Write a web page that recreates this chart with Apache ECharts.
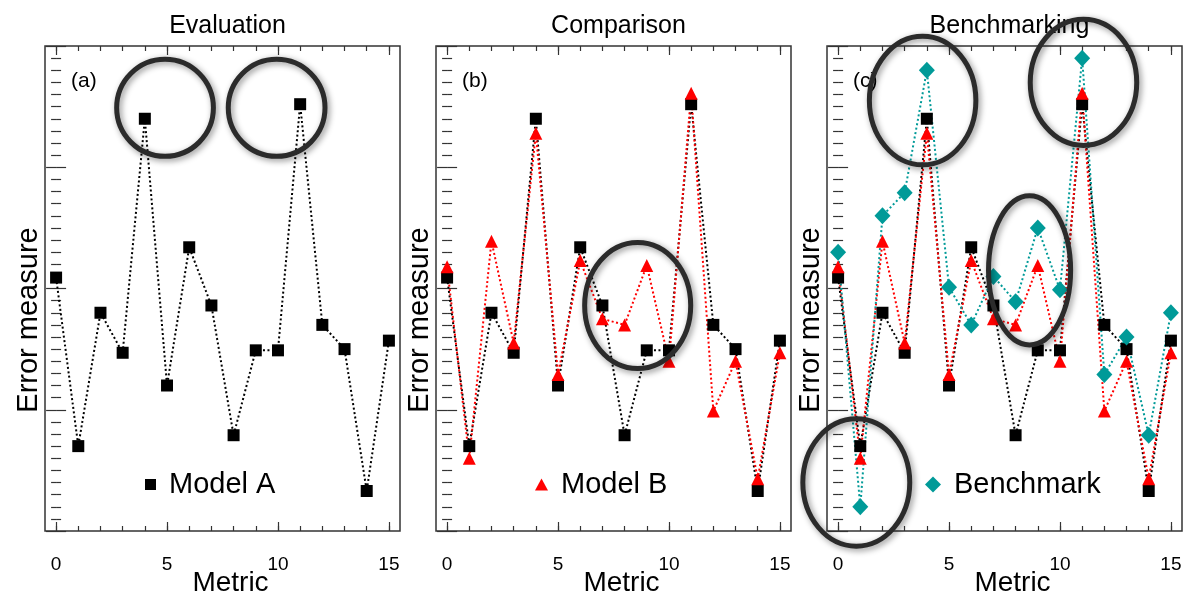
<!DOCTYPE html>
<html>
<head>
<meta charset="utf-8">
<script src="https://cdn.jsdelivr.net/npm/echarts@6/dist/echarts.min.js"></script>
<style>
  html, body { margin: 0; padding: 0; background: #fff; }
  #main { width: 1184px; height: 596px; }
</style>
</head>
<body>
<div id="main"></div>
<script>
  // data
  const metrics = [0, 1, 2, 3, 4, 5, 6, 7, 8, 9, 10, 11, 12, 13, 14, 15]
  const modelA = [2.09, 0.70, 1.80, 1.47, 3.40, 1.20, 2.34, 1.86, 0.79, 1.49, 1.49, 3.52, 1.70, 1.50, 0.33, 1.57]
  const modelB = [2.18, 0.60, 2.39, 1.55, 3.28, 1.29, 2.23, 1.75, 1.70, 2.19, 1.40, 3.61, 0.99, 1.40, 0.43, 1.47]
  const benchmark = [2.30, 0.20, 2.60, 2.79, 3.80, 2.01, 1.70, 2.10, 1.89, 2.50, 1.99, 3.90, 1.29, 1.60, 0.79, 1.80]
  const panelTitles = ['Evaluation', 'Comparison', 'Benchmarking']
  const panelTags = ['(a)', '(b)', '(c)']
  const xLabels = [0, 5, 10, 15]
  // highlight circles, data units: [panel, x, y, rx, ry]
  const circles = [
    [0, 4.91, 3.49, 2.18, 0.40],
    [0, 9.94, 3.49, 2.18, 0.40],
    [1, 8.59, 1.86, 2.39, 0.52],
    [2, 3.81, 3.55, 2.40, 0.53],
    [2, 11.06, 3.70, 2.40, 0.52],
    [2, 8.63, 2.15, 1.85, 0.615],
    [2, 0.82, 0.40, 2.41, 0.525]
  ]

  const FONT = "'Liberation Sans', Helvetica, Arial, sans-serif"
  const FRAME = '#333'
  const lefts = [45, 436, 827]
  const pair = arr => metrics.map((m, i) => [m, arr[i]])

  let grids = [], xAxes = [], yAxes = [], series = [], titles = []
  lefts.forEach((l, g) => {
    grids.push({left: l, top: 46, width: 355, height: 485, show: true, containLabel: false,
      outerBoundsMode: 'none',
      borderColor: FRAME, borderWidth: 1.5, backgroundColor: 'transparent'})
    ;['bottom', 'top'].forEach(pos => {
      xAxes.push({
        gridIndex: g, type: 'value', min: -0.5, max: 15.5, position: pos,
        axisLine: {show: false}, splitLine: {show: false},
        axisTick: {customValues: xLabels, inside: true, length: 9, lineStyle: {color: FRAME, width: 1.2}},
        axisLabel: pos === 'bottom'
          ? {customValues: xLabels, margin: 24, fontSize: 19, color: '#000', fontFamily: FONT}
          : {show: false},
        name: pos === 'bottom' ? 'Metric' : '',
        nameLocation: 'middle', nameGap: 38, nameMoveOverlap: false,
        nameTextStyle: {fontSize: 28, color: '#000', fontFamily: FONT, padding: [0, 0, 0, 16]}
      })
      xAxes.push({
        gridIndex: g, type: 'value', min: -0.5, max: 15.5, position: pos,
        axisLine: {show: false}, splitLine: {show: false},
        axisTick: {customValues: metrics, inside: true, length: 5, lineStyle: {color: FRAME, width: 1.2}},
        axisLabel: {show: false}
      })
    })
    ;['left', 'right'].forEach(pos => {
      yAxes.push({
        gridIndex: g, type: 'value', min: 0, max: 4, interval: 1, position: pos,
        axisLine: {show: false}, splitLine: {show: false},
        axisTick: {inside: true, length: 10, lineStyle: {color: FRAME, width: 1.2}},
        minorTick: {show: true, splitNumber: 10, length: 5, lineStyle: {color: FRAME, width: 1.2}},
        axisLabel: {show: false},
        name: pos === 'left' ? 'Error measure' : '',
        nameLocation: 'middle', nameGap: 2, nameMoveOverlap: false,
        nameTextStyle: {fontSize: 29, color: '#000', fontFamily: FONT, padding: [0, 63, 0, 0]}
      })
    })
    titles.push({text: panelTitles[g], left: l + 177.5, top: 9, textAlign: 'center',
      textStyle: {fontSize: 25, fontWeight: 'normal', color: '#000', fontFamily: FONT}})
    titles.push({text: panelTags[g], left: l + 21, top: 66,
      textStyle: {fontSize: 21, fontWeight: 'normal', color: '#000', fontFamily: FONT}})
  })

  function line(name, data, g, color, symbol, size) {
    return {
      name: name, type: 'line', data: pair(data),
      xAxisIndex: 4 * g, yAxisIndex: 2 * g,
      symbol: symbol, symbolSize: size, showSymbol: true,
      lineStyle: {color: color, width: 2, type: [2, 2.5]},
      itemStyle: {color: color},
      emphasis: {disabled: true}
    }
  }
  series.push(line('Model A', modelA, 0, '#000', 'rect', 12))
  series.push(line('Model A', modelA, 1, '#000', 'rect', 12))
  series.push(line('Model B', modelB, 1, '#ff0000', 'triangle', 13))
  series.push(line('Model A', modelA, 2, '#000', 'rect', 12))
  series.push(line('Model B', modelB, 2, '#ff0000', 'triangle', 13))
  series.push(line('Benchmark', benchmark, 2, '#009a98', 'diamond', [16, 17]))

  const legendText = {fontSize: 29, color: '#000', fontFamily: FONT, padding: [0, 0, 0, 8]}
  const chart = echarts.init(document.getElementById('main'))
  chart.setOption({
    animation: false,
    backgroundColor: '#fff',
    title: titles,
    grid: grids,
    xAxis: xAxes,
    yAxis: yAxes,
    legend: [
      {data: ['Model A'], left: 145, top: 470, padding: 0, icon: 'rect', itemWidth: 11, itemHeight: 11, textStyle: legendText, selectedMode: false},
      {data: ['Model B'], left: 535, top: 470, padding: 0, icon: 'triangle', itemWidth: 13, itemHeight: 12, textStyle: legendText, selectedMode: false},
      {data: ['Benchmark'], left: 925, top: 470, padding: 0, icon: 'diamond', itemWidth: 16, itemHeight: 16, textStyle: legendText, selectedMode: false}
    ],
    series: series
  })

  // circles drawn in data units through the grid scales
  let shapes = []
  circles.forEach(c => {
    const g = c[0]
    const finder = {xAxisIndex: 4 * g, yAxisIndex: 2 * g}
    const ctr = chart.convertToPixel(finder, [c[1], c[2]])
    const edge = chart.convertToPixel(finder, [c[1] + c[3], c[2] + c[4]])
    shapes.push({
      type: 'ellipse', silent: true, z: 100,
      shape: {cx: ctr[0], cy: ctr[1], rx: edge[0] - ctr[0], ry: ctr[1] - edge[1]},
      style: {fill: 'none', stroke: '#2b2b2b', lineWidth: 5,
        shadowBlur: 6, shadowColor: 'rgba(0,0,0,0.45)', shadowOffsetX: 2, shadowOffsetY: 2}
    })
  })
  chart.setOption({graphic: shapes})
</script>
</body>
</html>
